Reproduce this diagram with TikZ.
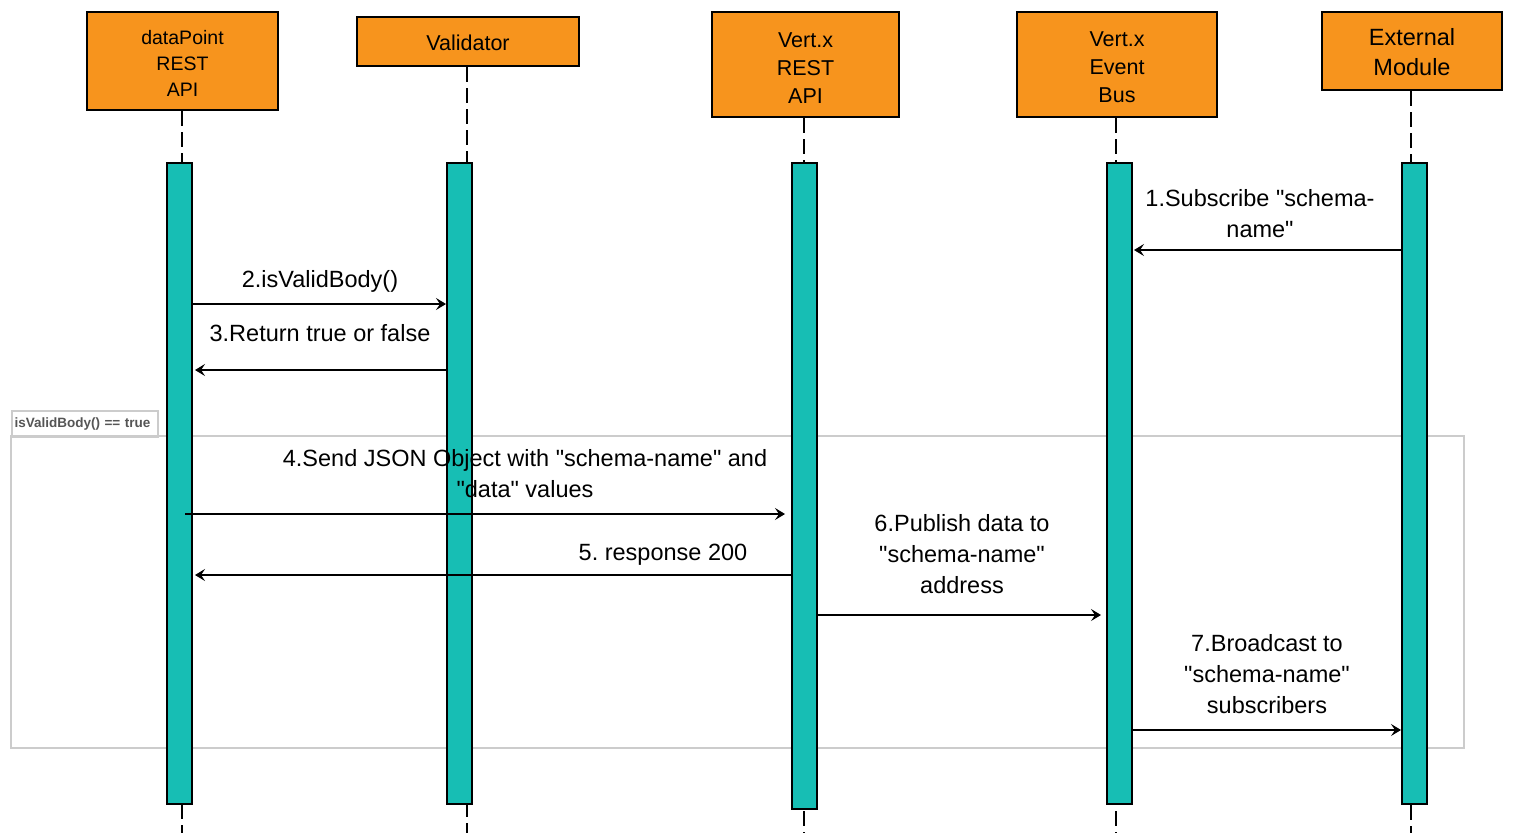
\documentclass[tikz,border=0pt]{standalone}
\usepackage{fontspec}
\setmainfont{Liberation Sans}[Ligatures=TeXOff]
\usetikzlibrary{arrows.meta}
\definecolor{hdr}{HTML}{F7941D}
\definecolor{act}{HTML}{17BEB4}
\definecolor{frm}{HTML}{CCCCCC}
\definecolor{frmtxt}{HTML}{555555}
\frenchspacing
\begin{document}
\begin{tikzpicture}[x=1pt,y=-1pt,
  hdrbox/.style={draw=black, line width=2pt, fill=hdr, inner sep=0pt, align=center},
  barbox/.style={draw=black, line width=2pt, fill=act, inner sep=0pt, minimum width=25pt},
  life/.style={line width=1.3pt, dash pattern=on 15pt off 6pt},
  msg/.style={line width=1.1pt, -{Stealth[length=10pt,width=12pt,inset=4pt]}},
  lbl/.style={align=center, font=\fontsize{23.5}{31}\selectfont, inner sep=0pt},
]
\useasboundingbox (0,0) rectangle (1515,833);
% frame
\draw[frm, line width=2pt] (11,436) rectangle (1464,748);
\node[draw=frm, line width=2pt, anchor=north west, minimum width=146pt, minimum height=26pt,
      text width=141pt, align=left, inner xsep=2pt, inner ysep=0pt,
      font=\fontsize{13.5}{15}\selectfont\bfseries, text=frmtxt] (tab) at (11,410) {isValidBody() == true};
% headers
\node[hdrbox, minimum width=191pt, minimum height=98pt, font=\fontsize{19.5}{26}\selectfont] (h1) at (182.5,61) {\rule{0pt}{19.5pt}dataPoint\\REST\\API};
\node[hdrbox, minimum width=222pt, minimum height=49pt, font=\fontsize{21.5}{28}\selectfont] (h2) at (468,41.5) {\rule{0pt}{17.5pt}Validator};
\node[hdrbox, minimum width=187pt, minimum height=105pt, font=\fontsize{21.5}{28}\selectfont] (h3) at (805.5,64.5) {\rule{0pt}{21pt}Vert.x\\REST\\API};
\node[hdrbox, minimum width=200pt, minimum height=105pt, font=\fontsize{21.5}{28}\selectfont] (h4) at (1117,64.5) {\rule{0pt}{21pt}Vert.x\\Event\\Bus};
\node[hdrbox, minimum width=180pt, minimum height=78pt, font=\fontsize{23.5}{30}\selectfont] (h5) at (1412,51) {\rule{0pt}{20.2pt}External\\Module};
% lifelines
\coordinate (e1) at (182,833);
\coordinate (e2) at (467,833);
\coordinate (e3) at (804,833);
\coordinate (e4) at (1116,833);
\coordinate (e5) at (1411,833);
\draw[life] ([xshift=-0.5pt]h1.south) -- (e1);
\draw[life] ([xshift=-1pt]h2.south) -- (e2);
\draw[life] ([xshift=-1.5pt]h3.south) -- (e3);
\draw[life] ([xshift=-1pt]h4.south) -- (e4);
\draw[life] ([xshift=-1pt]h5.south) -- (e5);
% activation bars
\node[barbox, minimum height=641pt] (b1) at (179.5,483.5) {};
\node[barbox, minimum height=641pt] (b2) at (459.5,483.5) {};
\node[barbox, minimum height=646pt] (b3) at (804.5,486) {};
\node[barbox, minimum height=641pt] (b4) at (1119.5,483.5) {};
\node[barbox, minimum height=641pt] (b5) at (1414.5,483.5) {};
% messages
\draw[msg] (b5.west |- 0,250) -- ([xshift=1pt]b4.east |- 0,250);
\draw[msg] (b1.east |- 0,304) -- (b2.west |- 0,304);
\draw[msg] (b2.west |- 0,370) -- ([xshift=2pt]b1.east |- 0,370);
\draw[msg] ([xshift=-8pt]b1.east |- 0,514) -- ([xshift=-6pt]b3.west |- 0,514);
\draw[msg] (b3.west |- 0,575) -- ([xshift=2pt]b1.east |- 0,575);
\draw[msg] (b3.east |- 0,615) -- ([xshift=-5pt]b4.west |- 0,615);
\draw[msg] (b4.east |- 0,730) -- (b5.west |- 0,730);
% labels
\node[lbl] (l1) at (1260,213.5) {1.Subscribe "schema-\\name"};
\node[lbl] (l2) at (320,281) {2.isValidBody()};
\node[lbl] (l3) at (320,333) {3.Return true or false};
\node[lbl] (l4) at (525,473.5) {4.Send JSON Object with "schema-name" and\\"data" values};
\node[lbl] (l5) at (663,555) {5. response 200};
\node[lbl] (l6) at (962,554) {6.Publish data to\\"schema-name"\\address};
\node[lbl] (l7) at (1267,674) {7.Broadcast to\\"schema-name"\\subscribers};
\end{tikzpicture}
\end{document}
